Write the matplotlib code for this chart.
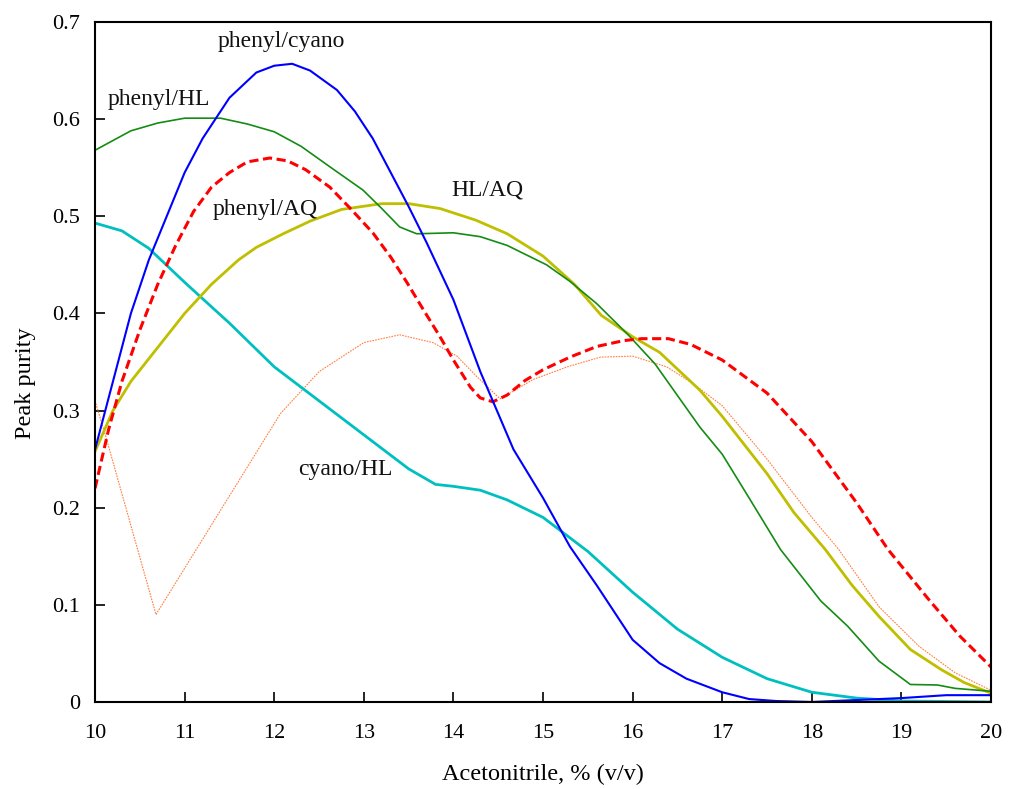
import matplotlib

matplotlib.use("Agg")

import matplotlib.pyplot as plt

plt.rcParams["font.family"] = ["Liberation Serif", "DejaVu Serif"]

# phenyl/cyano
x_pc = [10.0, 10.2, 10.4, 10.6, 10.8, 11.0, 11.2, 11.5, 11.8, 12.0, 12.2, 12.4, 12.7, 12.9, 13.1,
        13.3, 13.5, 13.7, 14.0, 14.3, 14.67, 15.0, 15.3, 15.6, 16.0, 16.3, 16.6, 17.0, 17.3, 17.6,
        18.0, 18.5, 19.0, 19.5, 20.0]
y_pc = [0.26, 0.33, 0.40, 0.455, 0.50, 0.545, 0.58, 0.622, 0.648, 0.655, 0.657, 0.65, 0.63, 0.608, 0.58,
        0.545, 0.51, 0.473, 0.414, 0.34, 0.26, 0.21, 0.16, 0.12, 0.064, 0.04, 0.024, 0.01, 0.003, 0.001,
        0.0, 0.002, 0.004, 0.007, 0.007]

# phenyl/HL
x_ph = [10.0, 10.2, 10.4, 10.7, 11.0, 11.4, 11.7, 12.0, 12.3, 12.62, 12.99, 13.2, 13.4, 13.59, 14.0,
        14.3, 14.6, 15.04, 15.3, 15.6, 15.95, 16.25, 16.75, 17.0, 17.3, 17.65, 18.1, 18.4, 18.75, 19.1,
        19.4, 19.6, 20.0]
y_ph = [0.568, 0.578, 0.588, 0.596, 0.601, 0.601, 0.595, 0.587, 0.572, 0.551, 0.527, 0.508, 0.489, 0.482, 0.483,
        0.479, 0.47, 0.45, 0.433, 0.41, 0.378, 0.348, 0.283, 0.255, 0.21, 0.157, 0.104, 0.078, 0.042, 0.018,
        0.0175, 0.014, 0.011]

# phenyl/AQ
x_pa = [10.0, 10.15, 10.3, 10.5, 10.7, 10.9, 11.1, 11.3, 11.5, 11.7, 11.95, 12.15, 12.35, 12.62, 12.85,
        13.1, 13.3, 13.48, 13.65, 13.85, 14.0, 14.19, 14.3, 14.44, 14.6, 14.8, 15.0, 15.3, 15.6, 15.9,
        16.1, 16.4, 16.65, 17.0, 17.5, 18.0, 18.5, 18.85, 19.3, 19.65, 20.0]
y_pa = [0.22, 0.28, 0.33, 0.383, 0.43, 0.47, 0.505, 0.53, 0.545, 0.556, 0.56, 0.557, 0.548, 0.53, 0.508,
        0.483, 0.458, 0.432, 0.406, 0.376, 0.352, 0.324, 0.313, 0.309, 0.316, 0.331, 0.342, 0.355, 0.366, 0.372,
        0.374, 0.374, 0.368, 0.352, 0.318, 0.268, 0.205, 0.157, 0.106, 0.068, 0.036]

# HL/AQ
x_ha = [10.0, 10.2, 10.4, 10.7, 11.0, 11.3, 11.6, 11.8, 12.1, 12.4, 12.75, 13.2, 13.5, 13.85, 14.25,
        14.6, 15.0, 15.35, 15.65, 16.0, 16.3, 16.75, 17.0, 17.5, 17.8, 18.15, 18.45, 18.75, 19.1, 19.45,
        19.7, 20.0]
y_ha = [0.258, 0.3, 0.33, 0.365, 0.4, 0.43, 0.455, 0.468, 0.482, 0.495, 0.507, 0.513, 0.513, 0.508, 0.496,
        0.482, 0.459, 0.43, 0.398, 0.376, 0.36, 0.321, 0.294, 0.235, 0.195, 0.157, 0.12, 0.088, 0.054, 0.033,
        0.02, 0.009]

# cyano/HL
x_ch = [10.0, 10.3, 10.6, 11.0, 11.5, 12.0, 12.5, 13.0, 13.5, 13.8, 14.0, 14.3, 14.6, 15.0, 15.5,
        16.0, 16.5, 17.0, 17.5, 18.0, 18.5, 19.0, 20.0]
y_ch = [0.493, 0.485, 0.467, 0.432, 0.39, 0.345, 0.31, 0.275, 0.24, 0.224, 0.222, 0.218, 0.208, 0.19, 0.155,
        0.113, 0.075, 0.046, 0.024, 0.01, 0.004, 0.001, 0.0]

# unlabelled thin dotted series
x_or = [10.0, 10.13, 10.68, 12.07, 12.5, 13.0, 13.4, 13.77, 14.04, 14.26, 14.52, 14.89, 15.27, 15.64, 16.0,
        16.38, 16.67, 17.0, 17.5, 18.0, 18.3, 18.75, 19.2, 19.6, 20.0]
y_or = [0.31, 0.27, 0.09, 0.297, 0.34, 0.37, 0.378, 0.37, 0.356, 0.335, 0.312, 0.332, 0.345, 0.355, 0.356,
        0.345, 0.328, 0.305, 0.25, 0.19, 0.157, 0.098, 0.057, 0.03, 0.012]

# curve labels
labels = ["phenyl/cyano", "phenyl/HL", "phenyl/AQ", "HL/AQ", "cyano/HL"]
label_x = [12.08, 10.71, 11.9, 14.38, 12.79]
label_y = [0.68, 0.62, 0.507, 0.527, 0.239]

fig = plt.figure(figsize=(10.09, 7.89), dpi=100)
ax = fig.add_axes([0.0942, 0.1103, 0.8880, 0.8618])

ax.plot(x_or, y_or, color="#ff7f3f", lw=0.8, ls=(0, (1.5, 1)))
ax.plot(x_ch, y_ch, color="#00bfbf", lw=2.0)
ax.plot(x_ha, y_ha, color="#bfbf00", lw=2.0)
ax.plot(x_ph, y_ph, color="#148c14", lw=1.2)
ax.plot(x_pa, y_pa, color="#ff0000", lw=2.2, ls=(0, (3, 1.5)))
ax.plot(x_pc, y_pc, color="#0000ff", lw=1.5)

for t, lx, ly in zip(labels, label_x, label_y):
    ax.text(lx, ly, t, fontsize=17, ha="center", va="center", color="#111111")

ax.set_xlim(10, 20)
ax.set_ylim(0, 0.7)
ax.set_xticks(range(10, 21))
ax.set_yticks([0, 0.1, 0.2, 0.3, 0.4, 0.5, 0.6, 0.7])
ax.set_yticklabels(["0", "0.1", "0.2", "0.3", "0.4", "0.5", "0.6", "0.7"])
ax.tick_params(direction="in", length=7, width=1.2, labelsize=16)
ax.tick_params(axis="x", pad=15.5)
ax.tick_params(axis="y", pad=11)
for s in ax.spines.values():
    s.set_linewidth(1.5)

ax.set_xlabel("Acetonitrile, % (v/v)", fontsize=17.5)
ax.set_ylabel("Peak purity", fontsize=17.5)
ax.xaxis.set_label_coords(0.5, -0.091)
ax.yaxis.set_label_coords(-0.066, 0.469)

fig.savefig("out.png", dpi=100)
